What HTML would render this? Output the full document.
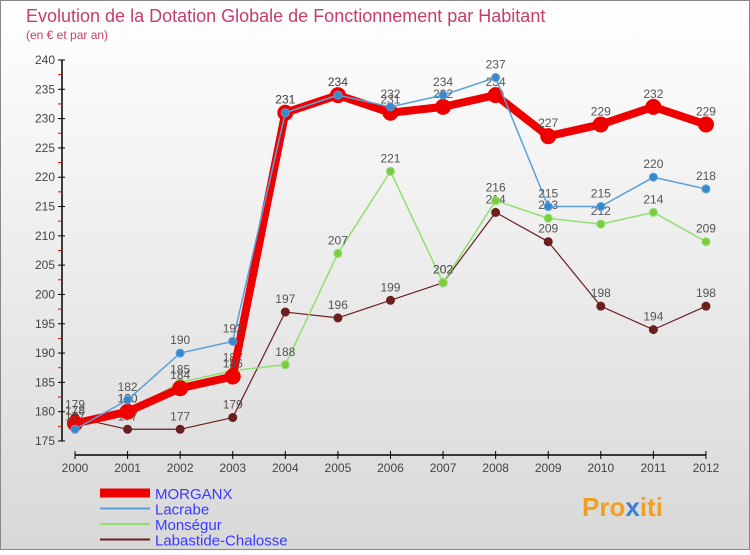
<!DOCTYPE html>
<html><head><meta charset="utf-8"><style>
body{margin:0;width:750px;height:550px;overflow:hidden;font-family:"Liberation Sans",sans-serif}
</style></head><body>
<svg width="750" height="550" viewBox="0 0 750 550" xmlns="http://www.w3.org/2000/svg">
<defs><linearGradient id="bg" x1="0" y1="0" x2="0" y2="1"><stop offset="0" stop-color="#ffffff"/><stop offset="1" stop-color="#d8d8d8"/></linearGradient></defs>
<rect x="0.5" y="0.5" width="749" height="549" fill="url(#bg)" stroke="#888"/>
<text x="26" y="22" font-size="18" fill="#c83c6e">Evolution de la Dotation Globale de Fonctionnement par Habitant</text>
<text x="26" y="39" font-size="12" fill="#c83c6e">(en € et par an)</text>
<g id="axes"></g><g id="series"></g><g id="legend"></g>
<text x="582" y="516" font-size="26" font-weight="bold" fill="#f0a020">Pro<tspan fill="#3a7fd0">x</tspan>iti</text>
</svg>
<script>
const years=[2000,2001,2002,2003,2004,2005,2006,2007,2008,2009,2010,2011,2012];
const yTicks=[175,180,185,190,195,200,205,210,215,220,225,230,235,240];
const morganx=[178,180,184,186,231,234,231,232,234,227,229,232,229];
const lacrabe=[177,182,190,192,231,234,232,234,237,215,215,220,218];
const monsegur=[178,180,185,187,188,207,221,202,216,213,212,214,209];
const labastide=[179,177,177,179,197,196,199,202,214,209,198,194,198];
const NS="http://www.w3.org/2000/svg";
const X=i=>75+i*52.58;
const Y=v=>441-(v-175)*5.862;
function mk(t,a,p){const e=document.createElementNS(NS,t);for(const k in a)e.setAttribute(k,a[k]);p.appendChild(e);return e;}
const ax=document.getElementById('axes');
let e=mk('line',{x1:62,y1:Y(175),x2:62,y2:Y(240),stroke:'#000','stroke-width':1.5},ax);


e=mk('line',{x1:X(0),y1:455,x2:X(12),y2:455,stroke:'#000','stroke-width':1.5},ax);


for(let i=0;i<yTicks.length-1;i++){const v=yTicks[i]+2.5;mk('line',{x1:58,y1:Y(v),x2:62,y2:Y(v),stroke:'#e00','stroke-width':1},ax);}
yTicks.forEach(v=>{mk('line',{x1:58,y1:Y(v),x2:65,y2:Y(v),stroke:'#000'},ax);
const t=mk('text',{x:55,y:Y(v)+4,'font-size':12,'text-anchor':'end',fill:'#444'},ax);t.textContent=v;

});
years.forEach((y,i)=>{mk('line',{x1:X(i),y1:451,x2:X(i),y2:459,stroke:'#000'},ax);
const t=mk('text',{x:X(i),y:472,'font-size':12,'text-anchor':'middle',fill:'#444'},ax);t.textContent=y;

});
const sg=document.getElementById('series');
const defs=[
{d:labastide,c:'#6b1f1f',w:1.2,r:4,n:'labastide'},
{d:monsegur,c:'#90e070',w:1.5,r:4,n:'monsegur',f:'#7ccc3c'},
{d:morganx,c:'#ee0000',w:8,r:7.5,n:'morganx'},
{d:lacrabe,c:'#5aa0d8',w:1.5,r:4,n:'lacrabe',f:'#3a88cc'}];
defs.forEach(s=>{
const g=mk('g',{},sg);


const p=mk('polyline',{points:s.d.map((v,i)=>X(i)+','+Y(v)).join(' '),fill:'none',stroke:s.c,'stroke-width':s.w,'stroke-linejoin':'round'},g);


s.d.forEach((v,i)=>{const c=mk('circle',{cx:X(i),cy:Y(v),r:s.r,fill:s.f||s.c,stroke:s.c,'stroke-width':1},g);


const t=mk('text',{x:X(i),y:Y(v)-9,'font-size':12,'text-anchor':'middle',fill:'#555'},g);t.textContent=v;

});
});
const lg=document.getElementById('legend');
[['MORGANX','#ee0000',9,'#3a3aff'],['Lacrabe','#5aa0d8',2,'#3a3aff'],['Monségur','#90e070',2,'#3a3aff'],['Labastide-Chalosse','#6b1f1f',2,'#3a3aff']].forEach((l,i)=>{
const y=493+i*15.5;
const ln=mk('line',{x1:100,y1:y,x2:150,y2:y,stroke:l[1],'stroke-width':l[2]},lg);


const t=mk('text',{x:155,y:y+6,'font-size':15,fill:l[3]},lg);t.textContent=l[0];


});
</script>
</body></html>
